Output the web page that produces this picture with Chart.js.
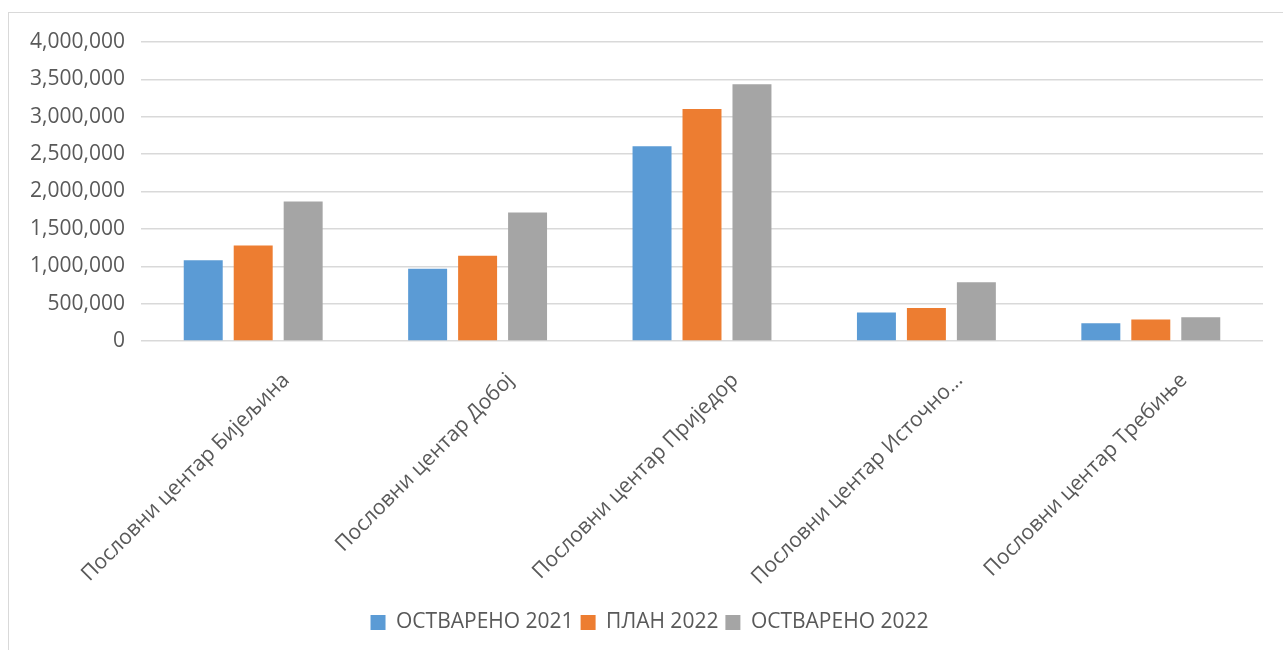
<!DOCTYPE html>
<html>
<head>
<meta charset="utf-8">
<script src="https://cdn.jsdelivr.net/npm/chart.js@4"></script>
<style>
  html, body { margin: 0; padding: 0; background: #fff; overflow: hidden; }
  #frame { position: absolute; left: 8px; top: 12px; width: 1400px; height: 800px; border: 1px solid #d9d9d9; }
  #bar-chart { position: absolute; left: 0; top: 0; }
</style>
</head>
<body>
<div id="frame"></div>
<canvas id="bar-chart" width="1283" height="650"></canvas>
<script>
var categories = [
	"Пословни центар Бијељина",
	"Пословни центар Добој",
	"Пословни центар Приједор",
	"Пословни центар Источно...",
	"Пословни центар Требиње"
];
var data_ostvareno_2021 = [1080000, 965000, 2605000, 382000, 238000];
var data_plan_2022 = [1278000, 1142000, 3103000, 440000, 288000];
var data_ostvareno_2022 = [1866000, 1720000, 3435000, 786000, 319000];

var text_color = "#595959";
var font_main = { family: "'Open Sans', sans-serif", size: 21 };

// legend sits a little right of the canvas centre in the original
var legendShift = {
	id: 'legendShift',
	afterLayout: function(chart) {
		chart.legend.left += 18;
		chart.legend.right += 18;
	}
};

new Chart(document.getElementById("bar-chart"), {
	type: 'bar',
	data: {
		labels: categories,
		datasets: [
			{
				label: "ОСТВАРЕНО 2021",
				backgroundColor: "#5b9bd5",
				data: data_ostvareno_2021
			},
			{
				label: "ПЛАН 2022",
				backgroundColor: "#ed7d31",
				data: data_plan_2022
			},
			{
				label: "ОСТВАРЕНО 2022",
				backgroundColor: "#a5a5a5",
				data: data_ostvareno_2022
			}
		]
	},
	plugins: [legendShift],
	options: {
		responsive: false,
		animation: false,
		devicePixelRatio: 1,
		categoryPercentage: 0.668,
		barPercentage: 0.78,
		layout: {
			padding: { left: 0, top: 42, right: 20, bottom: 7 }
		},
		plugins: {
			title: { display: false },
			tooltip: { enabled: false },
			legend: {
				position: 'bottom',
				labels: {
					color: text_color,
					font: font_main,
					boxWidth: 15,
					boxHeight: 15,
					padding: 7
				}
			}
		},
		scales: {
			x: {
				grid: { display: false, drawTicks: false },
				border: { display: false },
				ticks: {
					color: text_color,
					font: font_main,
					minRotation: 45,
					maxRotation: 45,
					padding: 27,
					labelOffset: 33,
					autoSkip: false
				},
				afterFit: function(scale) { scale.height = 264; }
			},
			y: {
				min: 0,
				max: 4000000,
				grid: { color: "#d9d9d9", lineWidth: 1.5, drawTicks: false },
				border: { display: false },
				ticks: {
					stepSize: 500000,
					color: text_color,
					font: font_main,
					padding: 16,
					callback: function(v) { return v.toLocaleString('en-US'); }
				},
				afterFit: function(scale) { scale.width = 141; }
			}
		}
	}
});
</script>
</body>
</html>
